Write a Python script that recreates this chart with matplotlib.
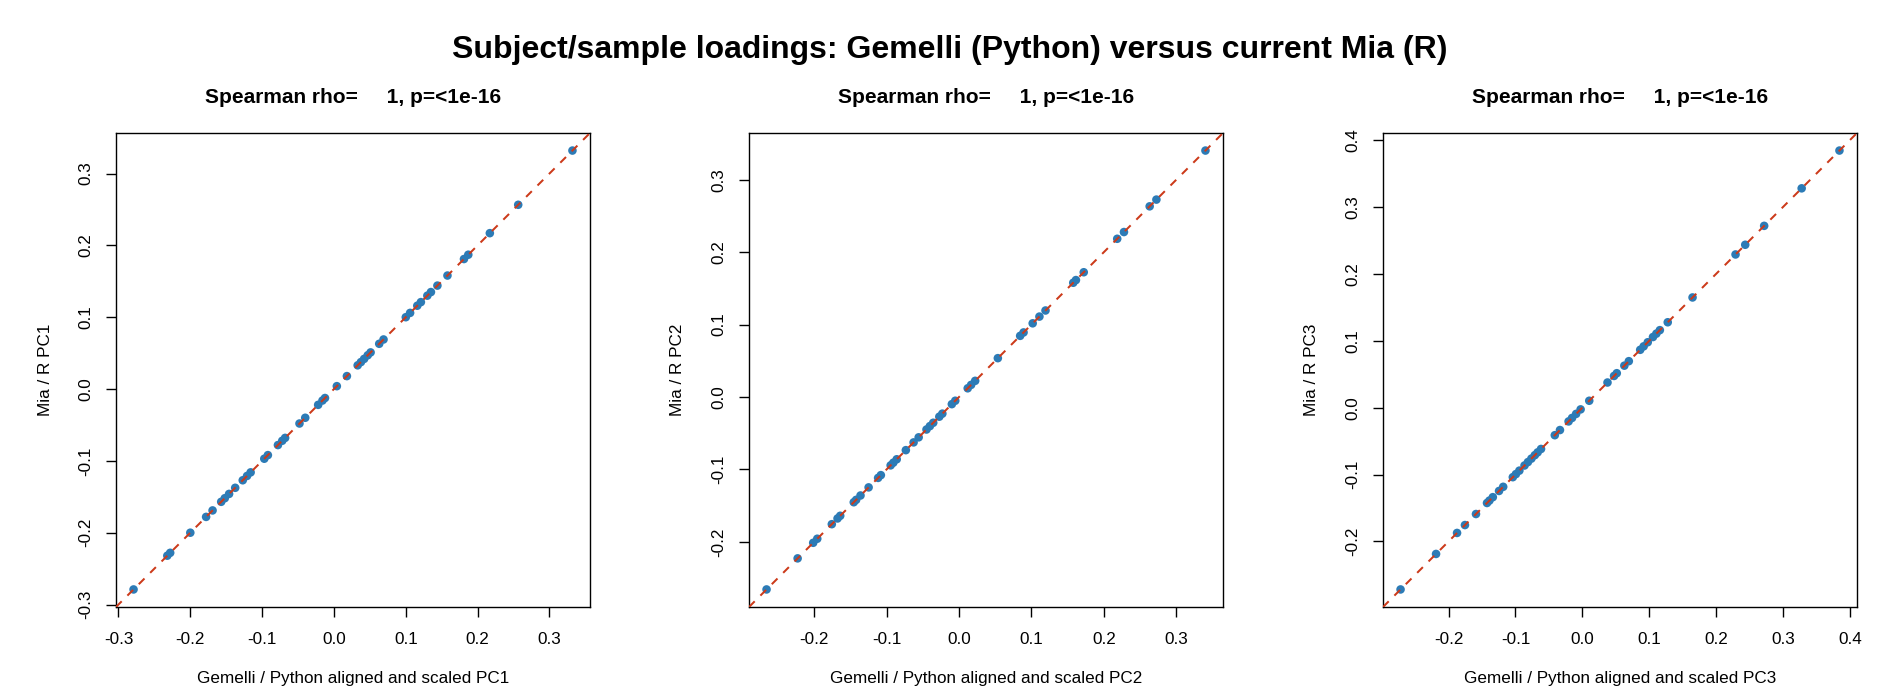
import matplotlib
matplotlib.use("Agg")
import matplotlib.pyplot as plt

plt.rcParams['font.family'] = ['Liberation Sans', 'DejaVu Sans']
plt.rcParams['axes.unicode_minus'] = False

# Loadings. Gemelli (x) and Mia (y) values fall
# exactly on the identity line, so the readings are the same for both.
pc1_gemelli = [-0.279, -0.232, -0.228, -0.200, -0.178, -0.169, -0.157, -0.152,
               -0.146, -0.1375, -0.127, -0.121, -0.116, -0.097, -0.092, -0.078,
               -0.072, -0.068, -0.048, -0.040, -0.022, -0.016, -0.0125, 0.004,
               0.018, 0.033, 0.0375, 0.042, 0.047, 0.051, 0.063, 0.069, 0.100,
               0.106, 0.116, 0.121, 0.130, 0.135, 0.144, 0.158, 0.181, 0.187,
               0.217, 0.2565, 0.332]
pc1_mia = list(pc1_gemelli)

pc2_gemelli = [-0.2656, -0.2227, -0.2012, -0.1956, -0.1755, -0.1676, -0.1639,
               -0.1452, -0.1419, -0.1359, -0.1247, -0.1116, -0.1078, -0.0943,
               -0.0906, -0.0859, -0.0733, -0.0626, -0.0556, -0.0448, -0.0401,
               -0.0355, -0.0271, -0.0229, -0.0098, -0.0051, 0.0121, 0.0168,
               0.0224, 0.0537, 0.0845, 0.0892, 0.1018, 0.1111, 0.1195, 0.1578,
               0.1615, 0.1723, 0.2185, 0.2278, 0.2633, 0.2726, 0.3403]
pc2_mia = list(pc2_gemelli)

pc3_gemelli = [-0.2719, -0.2188, -0.1874, -0.1756, -0.1591, -0.1426, -0.139,
               -0.1339, -0.1246, -0.1184, -0.104, -0.0994, -0.0942, -0.0865,
               -0.0814, -0.0762, -0.0711, -0.0669, -0.0618, -0.0412, -0.0335,
               -0.0206, -0.0154, -0.0093, -0.0026, 0.0103, 0.0376, 0.0474,
               0.0515, 0.0628, 0.0695, 0.0865, 0.0917, 0.0978, 0.1056, 0.1107,
               0.1159, 0.1277, 0.1648, 0.2291, 0.2436, 0.2719, 0.328, 0.3845]
pc3_mia = list(pc3_gemelli)

panels = [("PC1", pc1_gemelli, pc1_mia),
          ("PC2", pc2_gemelli, pc2_mia),
          ("PC3", pc3_gemelli, pc3_mia)]

subtitle = "Spearman rho=     1, p=<1e-16"
main_title = "Subject/sample loadings: Gemelli (Python) versus current Mia (R)"

W, H = 1900, 700
fig = plt.figure(figsize=(W / 100, H / 100), dpi=100)

lefts = [116, 749, 1383]
ax_w, ax_h = 474, 474
bottom = 93

blue = "#2c7bb6"
red = "#cc3a1a"


def r_limits(v):
    # R pads the data range by 4% on each side
    lo, hi = min(v), max(v)
    r = hi - lo
    return lo - 0.04 * r, hi + 0.04 * r


for left, (pc, gx, my) in zip(lefts, panels):
    ax = fig.add_axes([left / W, bottom / H, ax_w / W, ax_h / H])
    ax.scatter(gx, my, s=38, color=blue, edgecolors='none', zorder=2)
    ax.axline((0, 0), slope=1, color=red, lw=1.45, dashes=(4, 4), zorder=3)

    xlo, xhi = r_limits(gx)
    ylo, yhi = r_limits(my)
    ax.set_xlim(xlo, xhi)
    ax.set_ylim(ylo, yhi)

    xt = [t / 10 for t in range(-5, 6) if xlo <= t / 10 <= xhi]
    yt = [t / 10 for t in range(-5, 6) if ylo <= t / 10 <= yhi]
    ax.set_xticks(xt)
    ax.set_xticklabels(["%.1f" % t for t in xt])
    ax.set_yticks(yt)
    ax.set_yticklabels(["%.1f" % t for t in yt], rotation=90, va='center')

    ax.tick_params(length=7.2, width=1.0, labelsize=12.3, pad=11,
                   color='black', labelcolor='black')
    ax.tick_params(axis='y', pad=9)
    for sp in ax.spines.values():
        sp.set_linewidth(1.0)

    ax.set_xlabel("Gemelli / Python aligned and scaled " + pc, fontsize=12.3,
                  va='center')
    ax.xaxis.set_label_coords(0.5, -(678 - 607) / ax_h)
    ax.set_ylabel("Mia / R " + pc, fontsize=12.3, va='center')
    ax.yaxis.set_label_coords(-(116 - 45) / ax_w, 0.5)

    ax.text(0.5, 1 + 35 / ax_h, subtitle, transform=ax.transAxes,
            ha='center', va='center', fontsize=15, fontweight='bold')

fig.text(0.5, 1 - 50 / H, main_title, ha='center', va='center',
         fontsize=23, fontweight='bold')

fig.savefig("out.png", dpi=100, facecolor='white')
